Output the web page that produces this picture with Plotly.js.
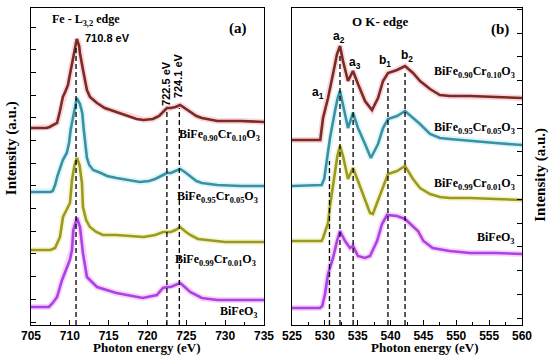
<!DOCTYPE html>
<html><head><meta charset="utf-8">
<script src="https://cdn.plot.ly/plotly-3.0.1.min.js"></script>
<style>html,body{margin:0;padding:0;background:#fff}#c{width:550px;height:359px}</style>
</head><body><div id="c"></div><script>
// ---------- Fe L-edge (panel a) ----------
const feCr10X = [705,707,707.4,708.35,708.7,709.1,709.4,709.76,710.0,710.28,710.6,710.9,711.2,711.3,711.7,712.2,712.6,713.5,714.5,716,718.6,719.5,720.7,721.5,722,722.5,723,723.6,724.2,724.8,725.5,726.3,727,729,732,735];
const feCr10Y = [19.7,19.7,19.8,20.2,21.3,22.8,23.3,24.0,25.0,26.2,27.7,28.6,27.9,27.2,25.5,23.5,22.8,22.2,21.7,21.3,20.6,20.5,20.6,20.9,21.3,21.7,21.7,21.8,22.0,21.7,21.3,20.9,20.7,20.4,20.4,20.3];
const feCr05X = [705,707.5,707.8,708.1,708.4,708.73,709.1,709.6,709.9,710.1,710.5,710.9,711.3,711.6,711.8,712.2,712.5,713.0,714,714.8,716,718,719,720.2,721,722,722.5,723,723.6,724.2,724.8,725.5,726.3,727,729,732,735];
const feCr05Y = [13.3,13.3,13.4,14.0,14.9,15.7,16.5,17.2,18.2,19.5,21.3,22.7,22.1,21.2,19.5,16.7,16.0,15.5,15.2,14.9,14.7,14.4,14.3,14.4,14.6,15.0,15.2,15.2,15.4,15.6,15.3,14.9,14.4,14.2,14.0,13.9,13.9];
const feCr01X = [705,707.5,708.1,708.73,709.12,709.6,710.02,710.28,710.6,710.92,711.25,711.56,711.69,712.1,712.59,713.4,714.27,716,718,719.5,721,722,722.5,723,723.6,724.2,724.8,725.5,726.5,727.6,730,735];
const feCr01Y = [7.5,7.5,7.7,8.8,10.8,11.5,12.2,14.5,16.0,16.7,16.0,14.2,11.8,10.5,9.8,9.3,9.0,9.0,8.9,8.8,9.0,9.3,9.3,9.3,9.5,9.8,9.4,9.0,8.6,8.5,8.3,8.3];
const feBfoX = [705,707.3,707.8,708.35,709.0,709.6,710.0,710.28,710.45,710.92,711.31,711.69,712.2,713.5,716,719.4,721.2,722,722.5,723,723.6,724.2,724.8,725.5,727,729,735];
const feBfoY = [1.8,1.8,2.2,2.8,4.5,5.8,6.5,7.5,9.5,10.7,9.8,7.2,4.8,3.8,3.2,2.7,3.0,3.7,3.8,3.8,4.0,4.2,3.8,3.3,2.7,2.5,2.5];

// ---------- O K-edge (panel b) ----------
const oCr10X = [525,528,529.3,529.72,530.48,531.24,531.85,532.3,532.76,533.52,534.28,535.04,536.11,537.17,538.09,538.85,539.61,540.98,542.2,543.41,544.48,546,547.5,549,552.1,556,560];
const oCr10Y = [18.5,18.5,18.5,20.7,22.7,25.1,27.1,27.9,26.4,24.4,25.4,24.1,22.4,21.5,22.7,24.4,25.2,25.5,25.9,25.2,24.4,23.6,23.0,22.9,22.9,22.8,22.7];
const oCr05X = [525,529.5,529.9,530.2,530.78,531.54,531.95,532.3,532.76,533.52,534.28,535.04,536.11,537.0,538.09,538.85,539.61,540.98,542.2,543.41,544.48,546,547.5,549,552.1,556,560];
const oCr05Y = [13.9,14.0,14.6,15.9,18.7,21.4,22.7,23.4,22.1,19.7,21.2,19.7,18.1,16.7,18.1,19.7,20.6,20.9,21.4,20.7,20.1,19.1,18.7,18.6,18.4,18.2,18.0];
const oCr01X = [525,529.5,529.72,530.48,530.78,531.2,531.54,531.9,532.3,532.76,533.52,534.28,535.04,536.11,536.87,537.3,538.09,538.85,539.61,540.98,542.2,543.41,544.48,546,547.5,549,552.1,556,560];
const oCr01Y = [8.4,8.4,8.7,10.2,11.9,13.9,15.1,16.9,17.9,16.9,14.6,15.7,14.4,12.4,11.2,11.1,12.4,13.7,15.1,15.4,15.9,14.6,13.7,13.1,12.8,12.7,12.7,12.6,12.5];
const oBfoX = [525,529.26,529.6,530.02,530.48,531.24,531.85,532.3,533.07,533.83,534.28,535.04,536.11,536.87,537.94,538.7,539.46,540.98,542.2,543.41,544.17,545,546.4,549,552.1,556,560];
const oBfoY = [1.7,1.7,1.9,3.1,5.1,6.7,8.4,9.4,8.4,7.7,7.9,6.9,6.7,6.9,8.4,10.1,11.0,10.9,10.6,9.9,9.4,8.4,7.7,7.4,7.2,7.2,7.1];

const sampleNames = ["BiFe<sub>0.90</sub>Cr<sub>0.10</sub>O<sub>3</sub>","BiFe<sub>0.95</sub>Cr<sub>0.05</sub>O<sub>3</sub>","BiFe<sub>0.99</sub>Cr<sub>0.01</sub>O<sub>3</sub>","BiFeO<sub>3</sub>"];
const feEdgeLines = [710.8, 722.5, 724.1];
const feEdgeLabels = ["710.8 eV","722.5 eV","724.1 eV"];
const oEdgeLines = [530.7, 532.3, 534.3, 539.6, 542.2];
const oEdgeLabels = ["a<sub>1</sub>","a<sub>2</sub>","a<sub>3</sub>","b<sub>1</sub>","b<sub>2</sub>"];
const xTicksFe = [705,710,715,720,725,730,735];
const xTicksO = [525,530,535,540,545,550,555,560];

const colors = ['#7b2b22','#3f8fa3','#9c9a1e','#a844e6'];
const glows = ['#f7c6d2','#c6f4fa','#f0f2c4','#f8bff3'];

const feSets = [[feCr10X,feCr10Y],[feCr05X,feCr05Y],[feCr01X,feCr01Y],[feBfoX,feBfoY]];
const oSets = [[oCr10X,oCr10Y],[oCr05X,oCr05Y],[oCr01X,oCr01Y],[oBfoX,oBfoY]];

const traces = [];
function addSeries(sets, xa, ya){
  for (let i = sets.length-1; i >= 0; i--){
    traces.push({x:sets[i][0], y:sets[i][1], xaxis:xa, yaxis:ya, mode:'lines',
      line:{color:glows[i], width:6}, opacity:0.7, hoverinfo:'skip', showlegend:false});
  }
  for (let i = sets.length-1; i >= 0; i--){
    traces.push({x:sets[i][0], y:sets[i][1], xaxis:xa, yaxis:ya, mode:'lines',
      line:{color:colors[i], width:2.6}, showlegend:false, name:sampleNames[i]});
  }
}
addSeries(feSets,'x','y');
addSeries(oSets,'x2','y2');

const sansB = {family:'Liberation Sans, Arial, sans-serif', weight:'bold', color:'#000'};
const serifB = {family:'Liberation Serif, Times New Roman, serif', weight:'bold', color:'#000'};
function f(base, size){ return Object.assign({}, base, {size:size}); }

const shapes = [];
const feTops = [27.8, 21.5, 21.7];
feEdgeLines.forEach((v,i)=>shapes.push({type:'line', xref:'x', yref:'y', x0:v, x1:v, y0:0, y1:feTops[i], line:{color:'#000', width:1.3, dash:'5px,3px'}}));
const oTops = [16.4, 26.9, 24.6, 24.2, 25.2];
oEdgeLines.forEach((v,i)=>shapes.push({type:'line', xref:'x2', yref:'y2', x0:v, x1:v, y0:0, y1:oTops[i], line:{color:'#000', width:1.3, dash:'5px,3px'}}));

const ann = [];
function A(o){ ann.push(Object.assign({showarrow:false, xanchor:'center', yanchor:'middle'}, o)); }
// panel a texts
A({xref:'x', yref:'y', x:712.1, y:30.5, text:'Fe - L<sub>3,2</sub> edge', font:f(serifB,12)});
A({xref:'x', yref:'y', x:714.9, y:28.7, text:feEdgeLabels[0], font:f(sansB,11)});
A({xref:'x', yref:'y', x:722.37, y:24.2, text:feEdgeLabels[1], font:f(sansB,11), textangle:-90});
A({xref:'x', yref:'y', x:723.95, y:24.9, text:feEdgeLabels[2], font:f(sansB,11), textangle:-90});
A({xref:'x', yref:'y', x:731.6, y:29.7, text:'(a)', font:f(serifB,15)});
const feLabY = [19.0, 12.8, 6.5, 1.3];
const feLabX = [734.75, 734.5, 734.25, 734.5];
sampleNames.forEach((s,i)=>A({xref:'x', yref:'y', x:feLabX[i], y:feLabY[i], xanchor:'right', text:s, font:f(serifB,12)}));
// panel b texts
A({xref:'x2', yref:'y2', x:538.5, y:30.4, text:'O K- edge', font:f(serifB,13)});
A({xref:'x2', yref:'y2', x:556.65, y:29.6, text:'(b)', font:f(serifB,15)});
const oLabX = [528.96, 532.15, 534.6, 539.15, 542.5];
const oLabY = [23.2, 28.8, 26.2, 26.4, 26.9];
oEdgeLabels.forEach((s,i)=>A({xref:'x2', yref:'y2', x:oLabX[i], y:oLabY[i], text:s, font:f(sansB,12)}));
const oNameY = [25.3, 19.7, 14.1, 8.7];
sampleNames.forEach((s,i)=>A({xref:'x2', yref:'y2', x:559.3, y:oNameY[i], xanchor:'right', text:s, font:f(serifB,12)}));
// axis titles
A({xref:'paper', yref:'paper', x:-0.0407, y:0.558, text:'Intensity (a.u.)', textangle:-90, font:f(serifB,15)});
A({xref:'paper', yref:'paper', x:1.036, y:0.473, text:'Intensity (a.u.)', textangle:-90, font:f(serifB,15)});
A({xref:'paper', yref:'paper', x:0.236, y:-0.072, text:'Photon energy (eV)', font:f(serifB,13)});
A({xref:'paper', yref:'paper', x:0.8024, y:-0.072, text:'Photon energy (eV)', font:f(serifB,13)});

const xCommon = {showgrid:false, zeroline:false, showline:true, linecolor:'#000', linewidth:1, mirror:true,
  ticks:'inside', ticklen:5, tickwidth:1, tickcolor:'#000', tickfont:f(sansB,12),
  minor:{ticks:'inside', ticklen:3, tickwidth:1, tickcolor:'#000', showgrid:false}};
const yCommon = {showgrid:false, zeroline:false, showline:true, linecolor:'#000', linewidth:1, mirror:true,
  ticks:'inside', ticklen:5, tickwidth:1, tickcolor:'#000', showticklabels:false, tickmode:'linear'};

const layout = {
  width:550, height:359, margin:{l:31, r:28, t:8, b:34},
  paper_bgcolor:'#fff', plot_bgcolor:'#fff', showlegend:false,
  xaxis:Object.assign({}, xCommon, {domain:[0,0.4745], range:[705,735], tickmode:'array', tickvals:xTicksFe,
    minor:Object.assign({}, xCommon.minor, {dtick:2.5, tick0:705}), anchor:'y'}),
  yaxis:Object.assign({}, yCommon, {domain:[0,1], range:[0,31.7], tick0:0.3, dtick:2.269, anchor:'x'}),
  xaxis2:Object.assign({}, xCommon, {domain:[0.5316,1], range:[525,560], tickmode:'array', tickvals:xTicksO,
    minor:Object.assign({}, xCommon.minor, {dtick:2.5, tick0:525}), anchor:'y2'}),
  yaxis2:Object.assign({}, yCommon, {domain:[0,1], range:[0,31.7], tick0:0.7, dtick:2.375, anchor:'x2', side:'right'}),
  shapes:shapes, annotations:ann
};
Plotly.newPlot('c', traces, layout, {staticPlot:true, displayModeBar:false});
</script></body></html>
